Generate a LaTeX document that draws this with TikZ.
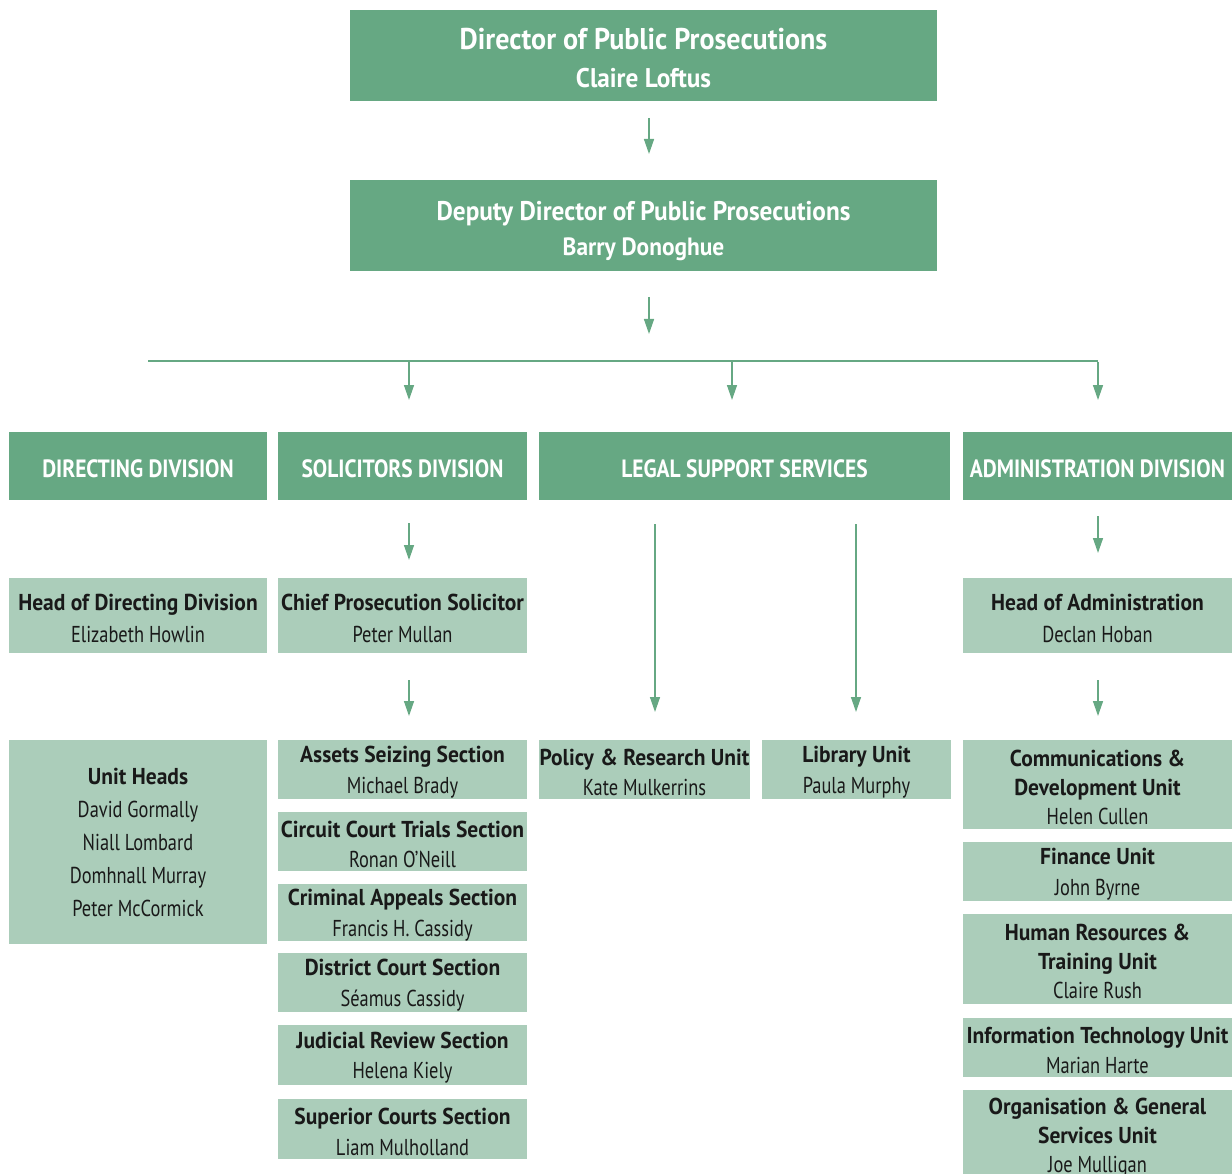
\documentclass[tikz,border=0pt]{standalone}
\usepackage{fontspec}
\setmainfont{PT Sans}[UprightFeatures={FakeStretch=0.8}, BoldFeatures={FakeStretch=0.935}]
\newfontfamily\capsfont{PT Sans}[UprightFeatures={FakeStretch=0.86}, BoldFeatures={FakeStretch=0.86}]
\usetikzlibrary{arrows.meta}
\definecolor{dkg}{HTML}{66A883}
\definecolor{ltg}{HTML}{ABCDBA}
\newcommand\tallstrut{\rule{0pt}{22pt}}
\tikzset{
  topbox/.style={fill=dkg, text=white, align=center, inner sep=0pt},
  divbox/.style={fill=dkg, text=white, align=center, inner sep=0pt, font=\capsfont\fontsize{25}{30}\selectfont\bfseries,
    execute at begin node={\rule{0pt}{24pt}}},
  unitbox/.style={fill=ltg, text=black!90, align=center, inner sep=0pt, font=\fontsize{23}{30.5}\selectfont},
  arr/.style={draw=dkg, line width=1.4pt, -{Triangle[length=15pt,width=10pt]}},
  busline/.style={draw=dkg, line width=1.4pt},
}
\newcommand\orgbox[7]{%
  \node[#2, minimum width={(#5-#3)*1pt}, minimum height={(#6-#4)*1pt}] (#1) at ({(#3+#5)/2},{(#4+#6)/2}) {#7};}
\begin{document}
\begin{tikzpicture}[x=1pt,y=-1pt]
\useasboundingbox (0,0) rectangle (1232,1174);
\clip (0,0) rectangle (1232,1174);
% top boxes
\orgbox{dpp}{topbox, font=\fontsize{30}{38}\selectfont\bfseries}{350}{10}{937}{101}{\rule{0pt}{27pt}Director of Public Prosecutions\\\fontsize{27}{38}\selectfont Claire Loftus}
\orgbox{ddpp}{topbox, font=\fontsize{27}{35}\selectfont\bfseries}{350}{180}{937}{271}{\rule{0pt}{30pt}Deputy Director of Public Prosecutions\\\fontsize{25}{35}\selectfont Barry Donoghue}
% divisions
\orgbox{dir}{divbox}{9}{432}{267}{500}{DIRECTING DIVISION}
\orgbox{sol}{divbox}{278}{432}{527}{500}{SOLICITORS DIVISION}
\orgbox{leg}{divbox}{539}{432}{950}{500}{LEGAL SUPPORT SERVICES}
\orgbox{adm}{divbox}{963}{432}{1232}{500}{ADMINISTRATION DIVISION}
% second row
\orgbox{hdd}{unitbox, font=\fontsize{23}{32}\selectfont}{9}{578}{267}{653}{\tallstrut\textbf{Head of Directing Division}\\Elizabeth Howlin}
\orgbox{cps}{unitbox, font=\fontsize{23}{32}\selectfont}{278}{578}{527}{653}{\tallstrut\textbf{Chief Prosecution Solicitor}\\Peter Mullan}
\orgbox{hoa}{unitbox, font=\fontsize{23}{32}\selectfont}{963}{578}{1232}{653}{\tallstrut\textbf{Head of Administration}\\Declan Hoban}
% unit heads
\orgbox{uh}{unitbox, font=\fontsize{23}{33}\selectfont}{9}{740}{267}{944}{\textbf{Unit Heads}\\David Gormally\\Niall Lombard\\Domhnall Murray\\Peter McCormick}
% solicitors sections
\orgbox{ass}{unitbox}{278}{740}{527}{799}{\tallstrut\textbf{Assets Seizing Section}\\Michael Brady}
\orgbox{cct}{unitbox}{278}{812}{527}{871}{\tallstrut\textbf{Circuit Court Trials Section}\\Ronan O’Neill}
\orgbox{cas}{unitbox}{278}{884}{527}{941}{\tallstrut\textbf{Criminal Appeals Section}\\Francis H. Cassidy}
\orgbox{dcs}{unitbox}{278}{953}{527}{1012}{\tallstrut\textbf{District Court Section}\\Séamus Cassidy}
\orgbox{jrs}{unitbox}{278}{1025}{527}{1085}{\tallstrut\textbf{Judicial Review Section}\\Helena Kiely}
\orgbox{scs}{unitbox}{278}{1099}{527}{1159}{\tallstrut\textbf{Superior Courts Section}\\Liam Mulholland}
% legal support units
\orgbox{pru}{unitbox}{539}{740}{750}{799}{\tallstrut\textbf{Policy\hspace{1pt} \& Research Unit}\\Kate Mulkerrins}
\orgbox{lib}{unitbox}{762}{740}{951}{799}{\tallstrut\textbf{Library Unit}\\Paula Murphy}
% admin units
\orgbox{cdu}{unitbox, font=\fontsize{23}{29}\selectfont}{963}{740}{1232}{829}{\tallstrut\textbf{Communications \&}\\\textbf{Development Unit}\\Helen Cullen}
\orgbox{fin}{unitbox}{963}{842}{1232}{901}{\tallstrut\textbf{Finance Unit}\\John Byrne}
\orgbox{hrt}{unitbox, font=\fontsize{23}{29}\selectfont}{963}{914}{1232}{1004}{\tallstrut\textbf{Human Resources \&}\\\textbf{Training Unit}\\Claire Rush}
\orgbox{itu}{unitbox}{963}{1018}{1232}{1077}{\tallstrut\textbf{Information Technology Unit}\\Marian Harte}
\orgbox{ogs}{unitbox, font=\fontsize{23}{29}\selectfont}{963}{1090}{1232}{1180}{\tallstrut\textbf{Organisation \& General}\\\textbf{Services Unit}\\Joe Mulligan}
% connectors
\coordinate (a1s) at (649,118); \coordinate (a1e) at (649,154);
\coordinate (a2s) at (649,297); \coordinate (a2e) at (649,334);
\draw[arr] (a1s) -- (a1e);
\draw[arr] (a2s) -- (a2e);
\coordinate (busL) at (148,361); \coordinate (busR) at (1098,361);
\draw[busline] (busL) -- (busR);
\coordinate (b1s) at (409,362); \coordinate (b1e) at (409,400);
\coordinate (b2s) at (732,362); \coordinate (b2e) at (732,400);
\coordinate (b3s) at (1098,362); \coordinate (b3e) at (1098,400);
\draw[arr] (b1s) -- (b1e);
\draw[arr] (b2s) -- (b2e);
\draw[arr] (b3s) -- (b3e);
\coordinate (c1s) at (409,523); \coordinate (c1e) at (409,560);
\coordinate (c2s) at (1098,516); \coordinate (c2e) at (1098,553);
\draw[arr] (c1s) -- (c1e);
\draw[arr] (c2s) -- (c2e);
\coordinate (l1s) at (655,524); \coordinate (l1e) at (655,712);
\coordinate (l2s) at (856,524); \coordinate (l2e) at (856,712);
\draw[arr] (l1s) -- (l1e);
\draw[arr] (l2s) -- (l2e);
\coordinate (d1s) at (409,680); \coordinate (d1e) at (409,716);
\coordinate (d2s) at (1098,680); \coordinate (d2e) at (1098,716);
\draw[arr] (d1s) -- (d1e);
\draw[arr] (d2s) -- (d2e);
\end{tikzpicture}
\end{document}
